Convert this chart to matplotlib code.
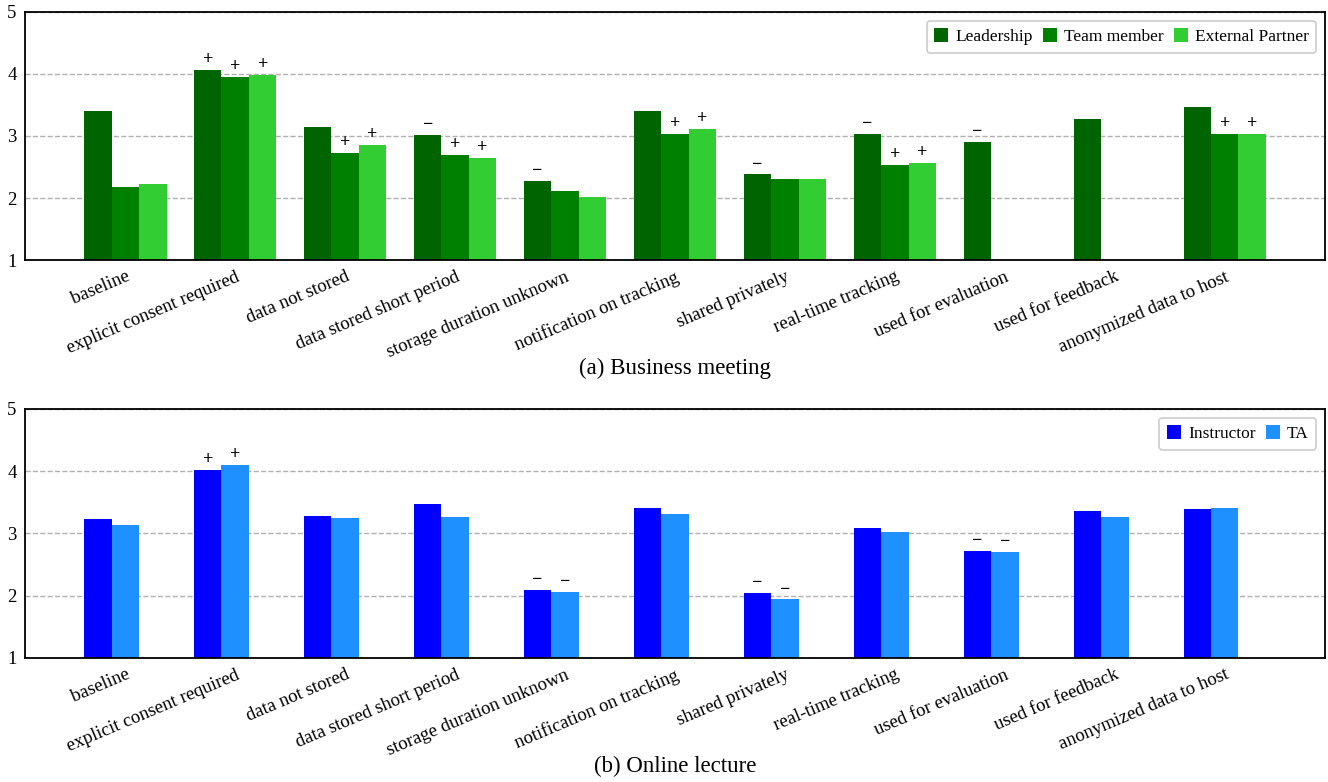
import numpy as np
import matplotlib
matplotlib.use("Agg")
import matplotlib.pyplot as plt

plt.rcParams["font.family"] = ["Liberation Serif", "DejaVu Serif"]

categories = [
    "baseline", "explicit consent required", "data not stored",
    "data stored short period", "storage duration unknown",
    "notification on tracking", "shared privately", "real-time tracking",
    "used for evaluation", "used for feedback", "anonymized data to host",
]

# (a) business meeting: mean ratings per role
leadership = [3.41, 4.06, 3.15, 3.02, 2.27, 3.40, 2.38, 3.04, 2.91, 3.27, 3.46]
team_member = [2.17, 3.95, 2.73, 2.69, 2.12, 3.04, 2.31, 2.54, np.nan, np.nan, 3.04]
external_partner = [2.22, 3.98, 2.85, 2.65, 2.01, 3.11, 2.31, 2.57, np.nan, np.nan, 3.04]

leadership_sig = ["", "+", "", "−", "−", "", "−", "−", "−", "", ""]
team_member_sig = ["", "+", "+", "+", "", "+", "", "+", "", "", "+"]
external_partner_sig = ["", "+", "+", "+", "", "+", "", "+", "", "", "+"]

# (b) online lecture
instructor = [3.23, 4.02, 3.28, 3.47, 2.10, 3.41, 2.04, 3.09, 2.72, 3.36, 3.39]
ta = [3.13, 4.10, 3.25, 3.26, 2.06, 3.31, 1.94, 3.02, 2.70, 3.26, 3.41]

instructor_sig = ["", "+", "", "", "−", "", "−", "", "−", "", ""]
ta_sig = ["", "+", "", "", "−", "", "−", "", "−", "", ""]

width = 0.25


def draw_panel(ax, series, caption):
    x = np.arange(len(categories))
    for j, (label, vals, sig, color) in enumerate(series):
        pos = x - width + j * width
        ax.bar(pos, vals, width, label=label, color=color, zorder=2)
        for p, v, s in zip(pos, vals, sig):
            if s:
                ax.text(p, v + 0.03, s, ha="center", va="bottom",
                        fontsize=13, fontweight="bold", color="black", zorder=3)

    ax.set_xlim(-0.9125, 10.9125)
    ax.set_ylim(1, 5)
    ax.set_yticks([1, 2, 3, 4, 5])
    ax.set_xticks(x)
    ax.set_xticklabels(categories, rotation=23, ha="right",
                       rotation_mode="anchor", fontsize=13.5)
    ax.tick_params(axis="both", length=0)
    ax.tick_params(axis="y", labelsize=13.5, pad=6)
    ax.tick_params(axis="x", pad=6)
    ax.grid(True, axis="y", linestyle="--", color="#b0b0b0", linewidth=1)
    ax.set_axisbelow(True)
    for sp in ax.spines.values():
        sp.set_linewidth(1.3)
        sp.set_color("black")

    leg = ax.legend(loc="upper right", ncol=len(series), fontsize=12.5,
                    handlelength=0.8, handleheight=0.8, handletextpad=0.4,
                    columnspacing=0.6, borderpad=0.45, fancybox=True,
                    framealpha=1, edgecolor="#cccccc")
    leg.get_frame().set_linewidth(1.2)

    ax.text(0.5, -0.436, caption, transform=ax.transAxes, ha="center",
            va="center", fontsize=16.5)


fig = plt.figure(figsize=(13.28, 7.82), dpi=100)
ax_a = fig.add_axes([0.0188, 0.6675, 0.979, 0.3172])
ax_b = fig.add_axes([0.0188, 0.1586, 0.979, 0.3184])

draw_panel(ax_a, [
    ("Leadership", leadership, leadership_sig, "#006400"),
    ("Team member", team_member, team_member_sig, "#008000"),
    ("External Partner", external_partner, external_partner_sig, "#32CD32"),
], "(a) Business meeting")

draw_panel(ax_b, [
    ("Instructor", instructor, instructor_sig, "#0000FF"),
    ("TA", ta, ta_sig, "#1E90FF"),
], "(b) Online lecture")

fig.savefig("out.png", dpi=100)
